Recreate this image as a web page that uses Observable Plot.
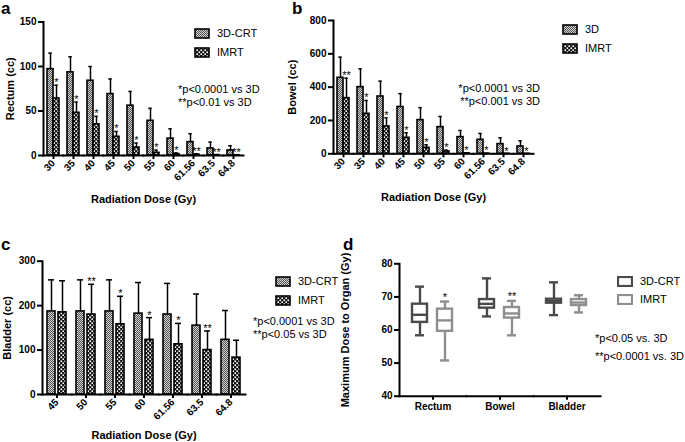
<!DOCTYPE html>
<html><head><meta charset="utf-8">
<script src="https://cdn.jsdelivr.net/npm/d3@7"></script>
<script src="https://cdn.jsdelivr.net/npm/@observablehq/plot@0.6"></script>
<style>
body{margin:0;background:#fff;font-family:"Liberation Sans",Arial,Helvetica,sans-serif;color:#000;}
#root{position:relative;width:685px;height:442px;overflow:hidden;}
.abs{position:absolute;}
.letter{position:absolute;font-weight:bold;font-size:17px;line-height:17px;}
.note{position:absolute;font-size:11px;line-height:13px;white-space:nowrap;}
.leg{position:absolute;font-size:11px;line-height:13px;white-space:nowrap;display:flex;align-items:center;}
.leg svg{margin-right:7px;}
</style></head><body>
<svg width="0" height="0" style="position:absolute">
<defs>
<pattern id="pat3d" width="2" height="2" patternUnits="userSpaceOnUse"><rect width="2" height="2" fill="#d0d0d0"/><rect width="1" height="1" fill="#555"/><rect x="1" y="1" width="1" height="1" fill="#555"/></pattern>
<pattern id="patimrt" width="4" height="4" patternUnits="userSpaceOnUse"><rect width="4" height="4" fill="#111"/><rect x="0.4" y="0.4" width="1.7" height="1.7" fill="#fff"/><rect x="2.4" y="2.4" width="1.7" height="1.7" fill="#fff"/></pattern>
</defs></svg>
<div id="root"></div>
<script>
// ---------- data ----------
const dosesAB = ["30","35","40","45","50","55","60","61.56","63.5","64.8"];
const rectum3D     = [97, 93.5, 84, 69, 56, 39, 19, 15, 8, 5.7];
const rectum3DSD   = [18, 17.5, 16, 17, 16, 14, 11, 9.5, 7, 5.3];
const rectumIMRT   = [64, 48, 35, 21, 9, 3, 1.5, 1, 0.5, 0.3];
const rectumIMRTSD = [15, 12, 9, 6, 5, 3, 1.5, 1, 0.3, 0.2];
const rectumStars  = ["*","*","*","*","*","*","*","**","**","**"];

const bowel3D     = [456, 400, 344, 281, 202, 160, 100, 84, 58, 44];
const bowel3DSD   = [124, 110, 92, 80, 75, 64, 40, 38, 38, 34];
const bowelIMRT   = [334, 240, 164, 96, 36, 14, 3, 1, 0.5, 0.3];
const bowelIMRTSD = [120, 80, 52, 30, 18, 8, 3, 1, 0.5, 0.3];
const bowelStars  = ["**","*","*","*","*","*","*","*","*","*"];

const dosesC = ["45","50","55","60","61.56","63.5","64.8"];
const bladder3D     = [187, 187, 187, 182, 180, 155, 123];
const bladder3DSD   = [71, 71, 71, 70, 70, 71, 66];
const bladderIMRT   = [185, 180, 158, 123, 113, 100, 83];
const bladderIMRTSD = [71, 68, 63, 50, 47, 43, 39];
const bladderStars  = ["","**","*","*","*","**",""];

const organs = ["Rectum","Bowel","Bladder"];
const boxGroups = ["3D-CRT","IMRT"];
// [min, q1, median, q3, max] per organ
const box3D   = [[58.4,62.3,64.6,67.8,73.1],[64.1,66.6,67.9,69.2,75.6],[64.5,68.1,68.7,69.3,74.4]];
const boxIMRT = [[50.8,59.6,62.9,66.3,68.6],[58.4,63.6,65.0,66.8,68.8],[65.3,67.4,68.3,69.2,70.5]];
const boxStars = ["*","**",""];

// ---------- helpers ----------
const FONT = '"Liberation Sans", Arial, Helvetica, sans-serif';
const root = document.getElementById("root");
function place(node, left, top){ const d=document.createElement("div"); d.className="abs"; d.style.left=left+"px"; d.style.top=top+"px"; d.appendChild(node); root.appendChild(d); }
function addText(cls, html, left, top, extra){ const d=document.createElement("div"); d.className=cls; d.innerHTML=html; d.style.left=left+"px"; d.style.top=top+"px"; if(extra) Object.assign(d.style, extra); root.appendChild(d); }
function legendItem(left, top, label, fill, stroke, sw){
  const d=document.createElement("div"); d.className="leg"; d.style.left=left+"px"; d.style.top=top+"px";
  d.innerHTML=`<svg width="16" height="11"><rect x="1" y="1" width="14" height="9" fill="${fill}" stroke="${stroke}" stroke-width="${sw}"/></svg><span>${label}</span>`;
  root.appendChild(d);
}

function barPanel(c){
  const rows3 = c.doses.map((d,i)=>({dose:d, g:"3D", v:c.m3[i], e:c.m3[i]+c.s3[i]}));
  const rowsI = c.doses.map((d,i)=>({dose:d, g:"IMRT", v:c.mi[i], e:c.mi[i]+c.si[i], star:c.stars[i]}));
  const all = rows3.concat(rowsI);
  return Plot.plot({
    width:c.width, height:c.height,
    marginLeft:c.ml, marginRight:c.mr, marginTop:c.mt, marginBottom:c.mb,
    style:{fontFamily:FONT, background:"transparent", color:"#000", overflow:"visible"},
    fx:{domain:c.doses, padding:0},
    x:{domain:["3D","IMRT"], paddingInner:c.pi, paddingOuter:c.po, axis:null},
    y:{domain:[0,c.yMax]},
    marks:[
      Plot.barY(rows3,{fx:"dose", x:"g", y:"v", fill:"url(#pat3d)", stroke:"#000", strokeWidth:1.6}),
      Plot.barY(rowsI,{fx:"dose", x:"g", y:"v", fill:"url(#patimrt)", stroke:"#000", strokeWidth:1.6}),
      Plot.ruleX(all,{fx:"dose", x:"g", y1:"v", y2:"e", stroke:"#000", strokeWidth:1.5}),
      Plot.tickY(all,{fx:"dose", x:"g", y:"e", stroke:"#000", strokeWidth:1.5, inset:c.capInset}),
      Plot.text(rowsI.filter(d=>d.star),{fx:"dose", x:"g", y:"e", text:"star", lineAnchor:"bottom", dy:1, fontSize:11, fill:"#000"}),
      Plot.frame({anchor:"bottom", strokeWidth:2}),
      Plot.frame({anchor:"left", facetAnchor:"left", strokeWidth:2}),
      Plot.axisY({ticks:c.yTicks, tickSize:5, strokeWidth:2, tickPadding:2, fontSize:10, fontWeight:"bold", label:null}),
      Plot.axisY({ticks:[], tickSize:0, fontSize:11, fontWeight:"bold",
        label:c.yLabel, labelAnchor:"center", labelOffset:c.ylo, labelArrow:"none"}),
      Plot.axisFx({anchor:"bottom", tickRotate:-45, tickSize:4, strokeWidth:2, tickPadding:2, fontSize:10, fontWeight:"bold", label:null}),
      Plot.axisFx({anchor:"bottom", ticks:[], tickSize:0, fontSize:11, fontWeight:"bold",
        label:"Radiation Dose (Gy)", labelAnchor:"center", labelOffset:c.xlo, labelArrow:"none"})
    ]
  });
}

// ---------- panel a ----------
place(barPanel({doses:dosesAB, m3:rectum3D, s3:rectum3DSD, mi:rectumIMRT, si:rectumIMRTSD, stars:rectumStars,
  yMax:150, yTicks:[0,50,100,150], yLabel:"Rectum (cc)",
  width:250, height:215, ml:40, mr:5, mt:21.5, mb:60, pi:0, po:0.55, capInset:1.3, ylo:37, xlo:47}), 0, 0);
addText("letter","a",1,0);
legendItem(194, 27, "3D-CRT", "url(#pat3d)", "#000", 1.6);
legendItem(194, 46, "IMRT", "url(#patimrt)", "#000", 1.6);
addText("note","*p&lt;0.0001 vs 3D<br>**p&lt;0.01 vs 3D",178,83);

// ---------- panel b ----------
place(barPanel({doses:dosesAB, m3:bowel3D, s3:bowel3DSD, mi:bowelIMRT, si:bowelIMRTSD, stars:bowelStars,
  yMax:800, yTicks:[0,200,400,600,800], yLabel:"Bowel (cc)",
  width:276, height:215, ml:70, mr:5, mt:20, mb:61.7, pi:0, po:0.5, capInset:1.3, ylo:45, xlo:47}), 262, 0);
addText("letter","b",292,0);
legendItem(562, 23, "3D", "url(#pat3d)", "#000", 1.6);
legendItem(562, 42, "IMRT", "url(#patimrt)", "#000", 1.6);
addText("note","*p&lt;0.0001 vs 3D<br>**p&lt;0.001 vs 3D",440,82,{width:100+"px",textAlign:"right"});

// ---------- panel c ----------
place(barPanel({doses:dosesC, m3:bladder3D, s3:bladder3DSD, mi:bladderIMRT, si:bladderIMRTSD, stars:bladderStars,
  yMax:300, yTicks:[0,100,200,300], yLabel:"Bladder (cc)",
  width:250, height:222, ml:42, mr:5, mt:40.7, mb:48, pi:0.27, po:0.45, capInset:1, ylo:39, xlo:44}), 0, 220);
addText("letter","c",1,236);
legendItem(275, 275, "3D-CRT", "url(#pat3d)", "#000", 1.6);
legendItem(275, 294, "IMRT", "url(#patimrt)", "#000", 1.6);
addText("note","*p&lt;0.0001 vs 3D<br>**p&lt;0.05 vs 3D",253,315);

// ---------- panel d ----------
(function(){
  const rows = [];
  organs.forEach((o,i)=>{
    const a=box3D[i], b=boxIMRT[i];
    rows.push({organ:o, g:"3D-CRT", min:a[0], q1:a[1], med:a[2], q3:a[3], max:a[4], star:""});
    rows.push({organ:o, g:"IMRT", min:b[0], q1:b[1], med:b[2], q3:b[3], max:b[4], star:boxStars[i]});
  });
  const sw = 2.4;
  const p = Plot.plot({
    width:275, height:222, marginLeft:69, marginRight:5, marginTop:43.3, marginBottom:46.3,
    style:{fontFamily:FONT, background:"transparent", color:"#000", overflow:"visible"},
    fx:{domain:organs, padding:0},
    x:{domain:boxGroups, paddingInner:0.31, paddingOuter:0.49, axis:null},
    y:{domain:[40,80]},
    color:{domain:boxGroups, range:["#4a4a4a","#8e8e8e"]},
    marks:[
      Plot.ruleX(rows,{fx:"organ", x:"g", y1:"min", y2:"max", stroke:"g", strokeWidth:sw}),
      Plot.barY(rows,{fx:"organ", x:"g", y1:"q1", y2:"q3", fill:"white", stroke:"g", strokeWidth:sw, insetLeft:1, insetRight:1}),
      Plot.tickY(rows,{fx:"organ", x:"g", y:"med", stroke:"g", strokeWidth:sw, inset:1}),
      Plot.tickY(rows,{fx:"organ", x:"g", y:"min", stroke:"g", strokeWidth:sw, inset:4}),
      Plot.tickY(rows,{fx:"organ", x:"g", y:"max", stroke:"g", strokeWidth:sw, inset:4}),
      Plot.text(rows.filter(d=>d.star),{fx:"organ", x:"g", y:"max", text:"star", lineAnchor:"bottom", dy:-1, fontSize:11, fill:"#000"}),
      Plot.frame({anchor:"bottom", strokeWidth:2}),
      Plot.frame({anchor:"left", facetAnchor:"left", strokeWidth:2}),
      Plot.axisY({ticks:[40,50,60,70,80], tickSize:5, strokeWidth:2, tickPadding:2, fontSize:10, fontWeight:"bold", label:null}),
      Plot.axisY({ticks:[], tickSize:0, fontSize:11, fontWeight:"bold",
        label:"Maximum Dose to Organ (Gy)", labelAnchor:"center", labelOffset:58, labelArrow:"none"}),
      Plot.axisFx({anchor:"bottom", tickSize:4, strokeWidth:2, tickPadding:3, fontSize:10, fontWeight:"bold", label:null})
    ]
  });
  place(p, 330, 220);
})();
addText("letter","d",343,236);
legendItem(617, 275, "3D-CRT", "#fff", "#4a4a4a", 2.2);
legendItem(617, 293, "IMRT", "#fff", "#8e8e8e", 2.2);
addText("note","*p&lt;0.05 vs. 3D",595,332);
addText("note","**p&lt;0.0001 vs. 3D",595,350);
</script>
</body></html>
